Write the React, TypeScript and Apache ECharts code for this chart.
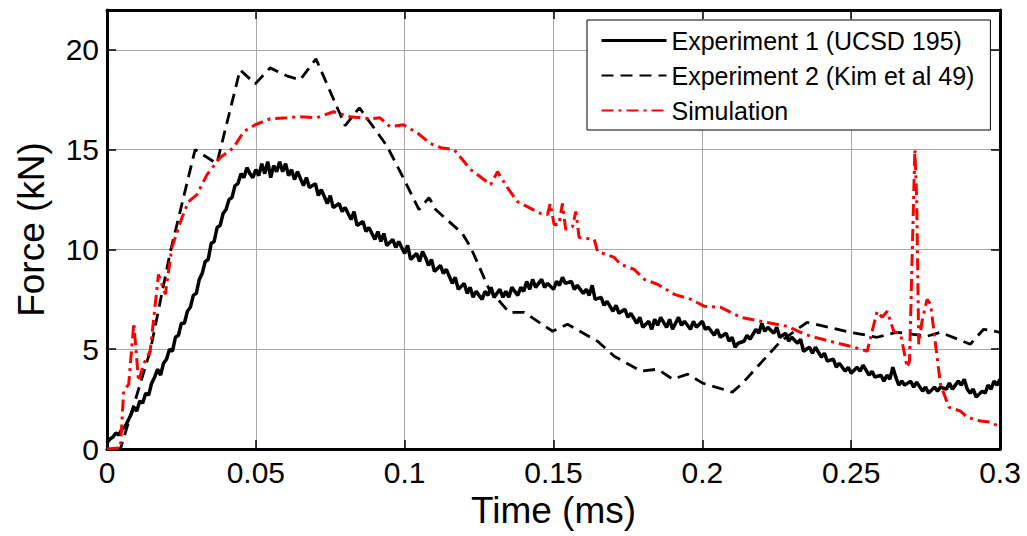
import React, { useEffect, useRef } from "react";
import * as echarts from "echarts";

const seriesNames = ["Experiment 1 (UCSD 195)", "Experiment 2 (Kim et al 49)", "Simulation"];
const xTickInterval = 0.05;
const yTickInterval = 5;

const exp1: [number, number][] = [
  [0.000,0.3],[0.001,0.5],[0.002,0.6],[0.003,0.8],[0.004,0.7],[0.005,1.0],[0.006,1.1],[0.007,1.4],[0.008,1.7],[0.009,2.1],
  [0.010,1.9],[0.011,2.4],[0.012,2.3],[0.013,2.8],[0.014,2.7],[0.015,3.3],[0.016,3.6],[0.017,4.0],[0.018,3.7],[0.019,4.3],
  [0.020,4.5],[0.021,5.0],[0.022,4.9],[0.023,5.6],[0.024,5.7],[0.025,6.3],[0.026,6.3],[0.027,6.9],[0.028,7.1],[0.029,7.7],
  [0.030,7.8],[0.031,8.5],[0.032,8.8],[0.033,9.4],[0.034,9.5],[0.035,10.3],[0.036,10.4],[0.037,11.1],[0.038,11.2],[0.039,11.8],
  [0.040,12.0],[0.041,12.5],[0.042,12.6],[0.043,13.2],[0.044,13.3],[0.045,13.8],[0.046,13.6],[0.047,14.1],[0.048,13.8],
  [0.049,13.6],[0.050,14.0],[0.051,13.7],[0.052,14.3],[0.053,13.8],
  [0.054,14.4],[0.055,13.6],[0.056,14.2],[0.057,13.9],[0.058,14.4],[0.059,13.9],[0.060,14.3],[0.061,13.7],[0.062,14.0],[0.063,13.5],
  [0.064,13.9],[0.066,13.2],[0.067,13.6],[0.068,13.1],[0.070,13.3],[0.071,12.7],[0.072,13.0],[0.074,12.3],[0.075,12.7],[0.076,12.1],
  [0.078,12.3],[0.079,11.9],[0.080,12.1],[0.082,11.5],[0.083,11.9],[0.084,11.2],[0.086,11.4],[0.087,10.9],[0.088,11.1],[0.090,10.5],
  [0.091,10.9],[0.092,10.4],[0.093,10.8],[0.094,10.2],[0.096,10.5],[0.097,10.1],[0.098,10.4],[0.100,9.8],[0.101,10.2],[0.102,9.5],
  [0.104,9.8],[0.105,9.4],[0.106,9.9],[0.107,9.6],[0.108,9.2],[0.109,9.5],[0.110,8.9],[0.112,9.2],[0.113,8.8],[0.114,9.0],
  [0.116,8.3],[0.117,8.6],[0.118,8.0],[0.120,8.3],[0.121,7.8],[0.122,8.1],[0.123,7.6],[0.124,7.9],[0.126,7.5],[0.127,7.9],
  [0.128,7.7],[0.129,8.1],[0.130,7.6],[0.132,8.0],[0.133,7.6],[0.134,7.9],[0.135,7.6],[0.136,8.1],[0.138,7.7],[0.139,8.1],
  [0.140,7.9],[0.141,8.4],[0.142,8.0],[0.143,8.5],[0.144,8.1],[0.146,8.5],[0.147,8.1],[0.148,8.3],[0.150,8.0],[0.151,8.4],
  [0.152,8.2],[0.153,8.6],[0.154,8.3],[0.156,8.4],[0.157,8.0],[0.158,8.2],[0.160,7.8],[0.161,8.0],[0.162,7.7],[0.163,8.2],
  [0.164,7.5],[0.166,7.6],[0.167,7.2],[0.168,7.4],[0.170,6.9],[0.171,7.2],[0.172,6.8],[0.174,7.0],[0.175,6.6],[0.176,6.8],
  [0.178,6.3],[0.179,6.6],[0.180,6.1],[0.182,6.4],[0.183,6.0],[0.184,6.5],[0.185,6.2],[0.186,6.6],[0.188,6.1],[0.189,6.5],
  [0.190,6.0],[0.192,6.6],[0.193,6.2],[0.194,6.4],[0.196,6.0],[0.197,6.4],[0.198,6.1],[0.200,6.4],[0.201,6.0],[0.202,6.1],
  [0.204,5.7],[0.205,6.0],[0.206,5.6],[0.208,5.8],[0.209,5.4],[0.210,5.6],[0.211,5.1],[0.212,5.3],[0.214,5.4],[0.215,5.7],
  [0.216,5.5],[0.218,6.0],[0.219,5.8],[0.220,6.3],[0.221,5.9],[0.222,6.1],[0.224,5.8],[0.225,6.1],[0.226,5.6],[0.228,5.8],
  [0.229,5.4],[0.230,5.6],[0.232,5.3],[0.233,5.5],[0.234,4.9],[0.236,5.1],[0.237,4.8],[0.238,5.1],[0.240,4.6],[0.241,4.8],
  [0.242,4.4],[0.244,4.5],[0.245,4.1],[0.246,4.3],[0.248,3.9],[0.249,4.1],[0.250,3.8],[0.252,4.1],[0.253,3.9],[0.254,4.2],
  [0.256,3.7],[0.257,3.9],[0.258,3.6],[0.260,3.7],[0.261,3.4],[0.262,3.7],[0.263,3.5],[0.264,4.1],[0.265,3.6],[0.266,3.2],
  [0.267,3.4],[0.268,3.2],[0.270,3.4],[0.271,3.1],[0.272,3.35],[0.274,2.9],[0.275,3.1],[0.276,2.8],[0.278,3.1],[0.279,2.9],
  [0.280,3.1],[0.282,3.0],[0.283,3.3],[0.284,3.0],[0.286,3.4],[0.287,3.2],[0.288,3.5],[0.289,3.0],[0.290,2.8],[0.291,3.0],
  [0.292,2.6],[0.294,2.9],[0.295,2.8],[0.296,3.2],[0.297,3.0],[0.298,3.4],[0.299,3.2],[0.300,3.5],
];

const exp2: [number, number][] = [
  [0.003,0],[0.0045,0],[0.0145,4.9],[0.0213,9.9],[0.0296,15.0],[0.0369,14.3],[0.0447,19.0],[0.0498,18.3],[0.0548,19.1],
  [0.0604,18.7],[0.0649,18.5],[0.0702,19.55],[0.080,16.2],[0.0848,17.1],[0.094,15.2],[0.0995,13.6],[0.1048,12.0],
  [0.1082,12.6],[0.1104,12.0],[0.1194,10.8],[0.1222,10.1],[0.1284,8.0],[0.1351,6.85],[0.1401,6.85],[0.1497,5.9],
  [0.1547,6.25],[0.1648,5.4],[0.1704,4.65],[0.1794,3.9],[0.185,4.0],[0.19,3.5],[0.1951,3.75],[0.2001,3.3],[0.2101,2.85],
  [0.2135,3.3],[0.2263,5.4],[0.2352,6.35],[0.2498,5.85],[0.2587,5.6],[0.2654,5.85],[0.2755,5.65],[0.28,5.85],[0.29,5.25],
  [0.2945,6.0],[0.3,5.85],
];

const simulation: [number, number][] = [
  [0,0],[0.0045,0.05],[0.0056,2.9],[0.0073,3.25],[0.009,6.3],[0.0106,3.4],[0.0123,4.25],[0.0145,4.9],[0.0173,8.75],
  [0.0196,7.75],[0.0218,10.1],[0.0252,11.6],[0.0274,12.4],[0.0302,12.75],[0.0336,13.75],[0.038,14.6],[0.0425,15.1],
  [0.0459,15.9],[0.0498,16.25],[0.0548,16.55],[0.0604,16.6],[0.0649,16.65],[0.0705,16.6],[0.0761,16.9],[0.0817,16.65],
  [0.0884,16.55],[0.0917,16.6],[0.0951,16.15],[0.0996,16.25],[0.1046,15.8],[0.1087,15.3],[0.1121,15.1],[0.1166,15.0],
  [0.1222,14.0],[0.1289,13.25],[0.1312,13.9],[0.1345,13.1],[0.1379,12.4],[0.1457,11.8],[0.148,11.75],[0.1489,12.3],
  [0.1502,11.25],[0.1518,11.25],[0.153,12.3],[0.1541,11.0],[0.1564,11.15],[0.1575,11.9],[0.1586,10.6],[0.1637,10.5],
  [0.1648,9.9],[0.1704,9.6],[0.1726,9.25],[0.1771,9.0],[0.1805,8.5],[0.185,8.25],[0.1906,7.75],[0.1962,7.5],[0.2007,7.15],
  [0.2062,7.1],[0.2129,6.6],[0.2196,6.4],[0.2285,6.15],[0.233,5.85],[0.2364,5.65],[0.2442,5.35],[0.2498,5.15],[0.2554,4.9],
  [0.2587,6.9],[0.2604,6.6],[0.2621,6.9],[0.2643,5.9],[0.2666,5.75],[0.2688,4.1],[0.2696,4.4],[0.2714,15.0],[0.272,12.6],
  [0.2727,5.25],[0.2738,6.4],[0.2755,7.5],[0.2767,7.25],[0.2778,5.9],[0.28,3.25],[0.2828,2.1],[0.2867,1.9],[0.2889,1.6],
  [0.2934,1.4],[0.2968,1.35],[0.3,1.1],
];

const FONT = "'Liberation Sans', Arial, sans-serif";

export default function App() {
  const ref = useRef<HTMLDivElement>(null);
  useEffect(() => {
    if (!ref.current) return;
    const chart = echarts.init(ref.current, undefined, { renderer: "svg" });
    const axisLine = { show: true, onZero: false, lineStyle: { color: "#000", width: 3 } };
    const axisTick = { show: true, inside: true, length: 9, lineStyle: { color: "#000", width: 1.5 } };
    const splitLine = { show: true, lineStyle: { color: "#a8a8a8", width: 1 } };
    chart.setOption({
      animation: false,
      backgroundColor: "#fff",
      textStyle: { fontFamily: FONT },
      grid: { left: 107, right: 27, top: 10, bottom: 87, containLabel: false },
      legend: {
        orient: "vertical",
        left: 587,
        top: 20,
        data: [
          { name: seriesNames[0], lineStyle: { width: 3 } },
          { name: seriesNames[1], lineStyle: { width: 2 } },
          { name: seriesNames[2], lineStyle: { width: 2 } },
        ],
        padding: [8, 16, 7, 13],
        itemWidth: 65,
        itemHeight: 14,
        itemGap: 10,
        itemTextGap: 8,
        backgroundColor: "#fff",
        borderColor: "#000",
        borderWidth: 1,
        borderRadius: 0,
        itemStyle: { color: "transparent", borderColor: "transparent", borderWidth: 0, opacity: 0 },
        textStyle: { fontSize: 25, color: "#000", fontFamily: FONT, lineHeight: 25 },
      },
      xAxis: [
        {
          type: "value",
          min: 0,
          max: 0.3,
          interval: xTickInterval,
          name: "Time (ms)",
          nameLocation: "middle",
          nameGap: 42,
          nameTextStyle: { fontSize: 37, color: "#000", fontFamily: FONT },
          axisLine,
          axisTick,
          splitLine,
          axisLabel: { fontSize: 30, color: "#000", margin: 8, fontFamily: FONT },
        },
        {
          type: "value",
          position: "top",
          min: 0,
          max: 0.3,
          interval: xTickInterval,
          axisLine,
          axisTick,
          splitLine: { show: false },
          axisLabel: { show: false },
        },
      ],
      yAxis: [
        {
          type: "value",
          min: 0,
          max: 22,
          interval: yTickInterval,
          name: "Force (kN)",
          nameLocation: "middle",
          nameGap: 57,
          nameTextStyle: { fontSize: 37, color: "#000", fontFamily: FONT },
          axisLine,
          axisTick,
          splitLine,
          axisLabel: { fontSize: 30, color: "#000", margin: 8, fontFamily: FONT, showMaxLabel: false },
        },
        {
          type: "value",
          position: "right",
          min: 0,
          max: 22,
          interval: yTickInterval,
          axisLine,
          axisTick,
          splitLine: { show: false },
          axisLabel: { show: false },
        },
      ],
      series: [
        {
          name: seriesNames[0],
          type: "line",
          data: exp1,
          symbol: "none",
          lineStyle: { color: "#000", width: 3.5, type: "solid" },
          itemStyle: { color: "#000" },
        },
        {
          name: seriesNames[1],
          type: "line",
          data: exp2,
          symbol: "none",
          lineStyle: { color: "#000", width: 2.8, type: [12, 7] },
          itemStyle: { color: "#000" },
        },
        {
          name: seriesNames[2],
          type: "line",
          data: simulation,
          symbol: "none",
          lineStyle: { color: "#ff0000", width: 3, type: [12, 5, 3, 5] },
          itemStyle: { color: "#ff0000" },
        },
      ],
    });
    return () => chart.dispose();
  }, []);
  return (
    <div
      ref={ref}
      style={{ position: "absolute", left: 0, top: 0, width: 1027, height: 536, background: "#fff" }}
    />
  );
}
